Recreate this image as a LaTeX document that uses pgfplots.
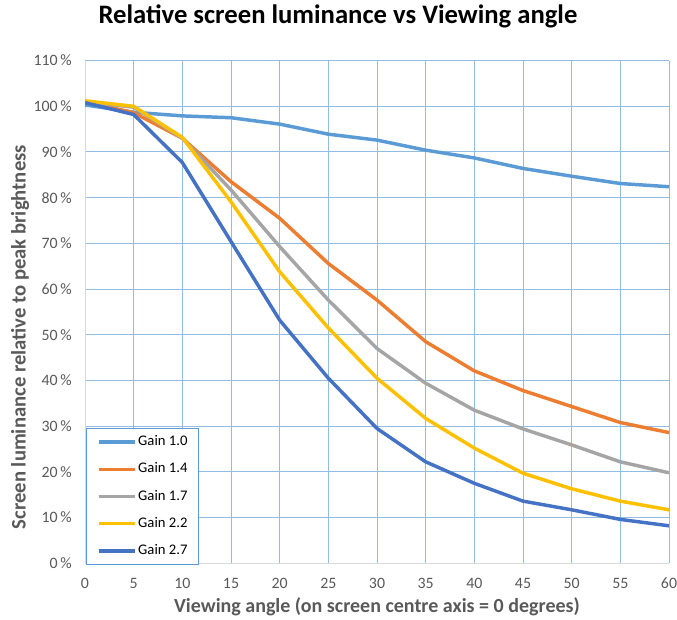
\documentclass[border=0pt]{standalone}
\usepackage{fontspec}
\setmainfont{Carlito}
\usepackage{pgfplots}
\pgfplotsset{compat=1.18}
\definecolor{c1}{HTML}{5B9BD5}
\definecolor{c2}{HTML}{ED7D31}
\definecolor{c3}{HTML}{A5A5A5}
\definecolor{c4}{HTML}{FFC000}
\definecolor{c5}{HTML}{4472C4}
\definecolor{gridc}{HTML}{92BCE3}
\definecolor{txt}{HTML}{595959}
\begin{document}
\begin{tikzpicture}
\useasboundingbox (0,0) rectangle (507.75pt,464.25pt);
\begin{axis}[
  at={(63.75pt,41.8pt)}, anchor=south west,
  scale only axis, width=438pt, height=377pt,
  xmin=0, xmax=60, ymin=0, ymax=110,
  xtick={0,5,...,60}, ytick={0,10,...,110},
  grid=major, major grid style={draw=gridc, line width=0.75pt},
  axis x line*=bottom, axis y line*=left,
  axis line style={draw=black!15, line width=0.75pt, -},
  major tick length=0pt,
  /pgf/number format/assume math mode=true,
  ticklabel style={font=\fontsize{11.9}{14}\selectfont, text=txt},
  yticklabel={\pgfmathprintnumber{\tick}\,\%},
  yticklabel style={anchor=east, inner sep=0pt, xshift=-9.75pt},
  xticklabel style={anchor=center, inner sep=0pt, yshift=-15pt},
  title={Relative screen luminance vs Viewing angle},
  title style={at={(axis description cs:0.5,1)}, anchor=center, xshift=-29.25pt, yshift=27.45pt, font=\bfseries\fontsize{20}{24}\selectfont},
  xlabel={Viewing angle (on screen centre axis = 0 degrees)},
  xlabel style={at={(axis description cs:0.5,0)}, anchor=center, yshift=-32.8pt, font=\bfseries\fontsize{15}{18}\selectfont, text=txt},
  ylabel={Screen luminance relative to peak brightness},
  ylabel style={at={(axis description cs:-0.1113,0.45)}, anchor=center, font=\bfseries\fontsize{15.5}{18}\selectfont, text=txt},
  every axis plot/.append style={line width=2.6pt, line join=round},
  legend style={at={(axis description cs:0,0)}, anchor=south west, xshift=0.75pt, yshift=-1.3pt,
    draw=c1, line width=0.75pt, fill=white, inner xsep=8pt, inner ysep=5.5pt,
    font=\fontsize{11}{13}\selectfont,
    nodes={inner sep=0pt, text height=7.5pt, text depth=2pt},
    row sep=10.9pt,
    /tikz/every odd column/.append style={column sep=1.5pt}},
  legend cell align=left,
  legend image code/.code={\draw[#1, line width=2.6pt] (0pt,0pt) -- (26.7pt,0pt);},
]
\addplot[c1] coordinates {(0,100.3)(5,98.7)(10,97.9)(15,97.5)(20,96.1)(25,93.9)(30,92.6)(35,90.4)(40,88.7)(45,86.4)(50,84.7)(55,83.1)(60,82.4)};
\addlegendentry{Gain 1.0}
\addplot[c2] coordinates {(0,101)(5,98.6)(10,93)(15,83.5)(20,75.5)(25,65.6)(30,57.6)(35,48.5)(40,42.1)(45,37.8)(50,34.3)(55,30.8)(60,28.6)};
\addlegendentry{Gain 1.4}
\addplot[c3] coordinates {(0,101)(5,99.8)(10,93)(15,81.7)(20,69.3)(25,57.6)(30,47.0)(35,39.4)(40,33.5)(45,29.4)(50,25.9)(55,22.2)(60,19.8)};
\addlegendentry{Gain 1.7}
\addplot[c4] coordinates {(0,101.2)(5,100)(10,93.2)(15,79.1)(20,63.8)(25,51.5)(30,40.5)(35,31.7)(40,25.2)(45,19.7)(50,16.3)(55,13.6)(60,11.7)};
\addlegendentry{Gain 2.2}
\addplot[c5] coordinates {(0,100.8)(5,98.2)(10,87.7)(15,70.4)(20,53.2)(25,40.5)(30,29.5)(35,22.2)(40,17.5)(45,13.6)(50,11.7)(55,9.6)(60,8.2)};
\addlegendentry{Gain 2.7}
\end{axis}
\end{tikzpicture}
\end{document}
